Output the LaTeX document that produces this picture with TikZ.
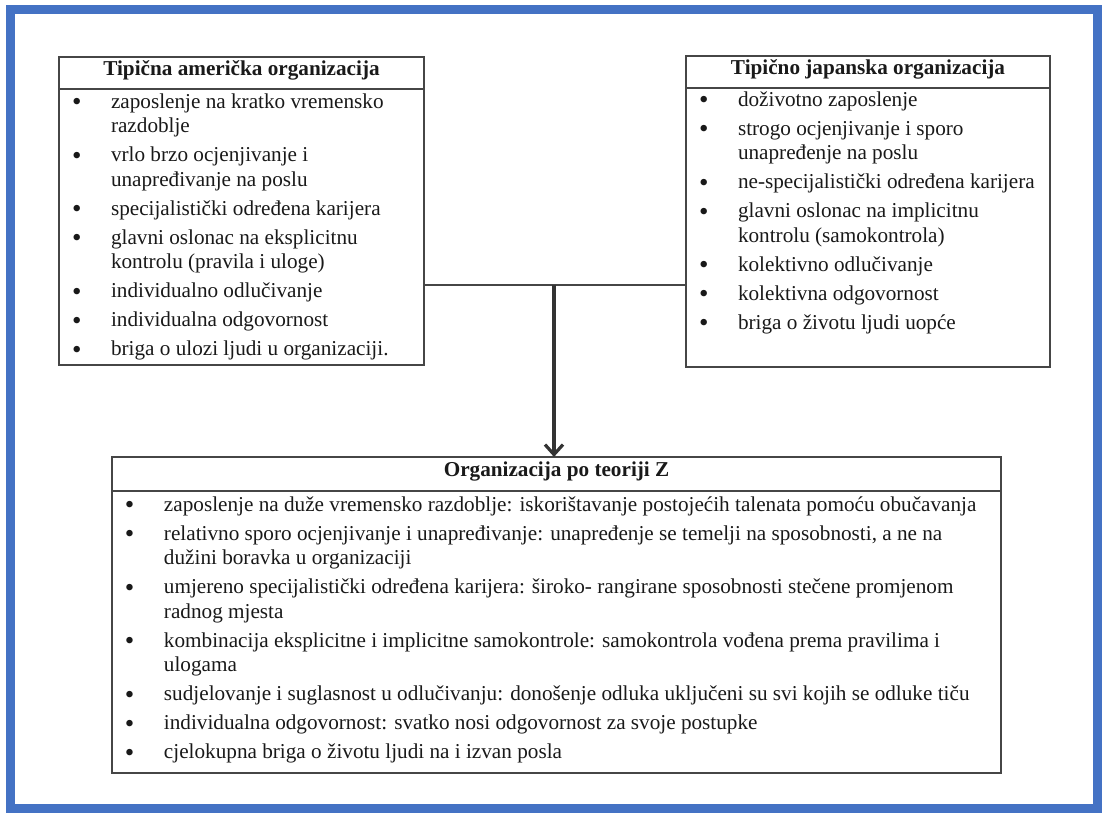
\documentclass[tikz,border=0pt]{standalone}
\usepackage{fontspec}
\setmainfont{Liberation Serif}
\usepackage{xcolor}
\usepackage{tikz}
\usetikzlibrary{positioning,arrows.meta}

\definecolor{okvirplava}{RGB}{68,114,196}
\definecolor{crta}{RGB}{70,70,70}
\newcommand{\velicina}{\fontsize{10.6}{12.25}\selectfont}
\newcommand{\tocka}{\raisebox{-1.3pt}{\fontsize{13.5}{12}\selectfont\textbullet}}
% body of a box: height, width, top gap, rows
\newcommand{\popis}[4]{%
  \begin{minipage}[t][#1][t]{#2}\vspace*{#3}%
  \begin{tabular}{@{\hspace{6.5pt}}p{19.5pt}@{}l@{}}#4\end{tabular}%
  \end{minipage}}
\tikzset{
  naslov/.style={draw=crta, line width=1pt, inner sep=0pt, outer sep=0pt,
    text height=6pt, text depth=3.5pt, font=\velicina\bfseries, text=black!90},
  tijelo/.style={draw=crta, line width=1pt, inner sep=0pt, outer sep=0pt, text=black!90},
  okvir/.style={draw=okvirplava, line width=4.5pt},
  veza/.style={draw=crta, line width=0.9pt},
  strelica/.style={draw=black!80, line width=1.6pt, -{Straight Barb[length=5pt,width=9pt]}}
}

\begin{document}
\begin{tikzpicture}[font=\velicina]
\useasboundingbox (0,0) rectangle (19.40,14.304);
% blue frame
\draw[okvir] (0.193,0.088) rectangle (19.277,14.129);
% american organisation
\node[naslov, minimum width=182.5pt, minimum height=16pt, anchor=north west] (amerNasl) at (1.037,13.303) {Tipična američka organizacija};
\node[tijelo, below=0pt of amerNasl] (amer) {\popis{138pt}{182.5pt}{1pt}{%
  \tocka & zaposlenje na kratko vremensko\\
  & razdoblje\\[2.25pt]
  \tocka & vrlo brzo ocjenjivanje i\\
  & unapređivanje na poslu\\[2.25pt]
  \tocka & specijalistički određena karijera\\[2.25pt]
  \tocka & glavni oslonac na eksplicitnu\\
  & kontrolu (pravila i uloge)\\[2.25pt]
  \tocka & individualno odlučivanje\\[2.25pt]
  \tocka & individualna odgovornost\\[2.25pt]
  \tocka & briga o ulozi ljudi u organizaciji.}};
% japanese organisation
\node[naslov, minimum width=182pt, minimum height=16pt, anchor=north west] (japNasl) at (12.055,13.320) {Tipično japanska organizacija};
\node[tijelo, below=0pt of japNasl] (jap) {\popis{139.5pt}{182pt}{0.5pt}{%
  \tocka & doživotno zaposlenje\\[2.25pt]
  \tocka & strogo ocjenjivanje i sporo\\
  & unapređenje na poslu\\[2.25pt]
  \tocka & ne-specijalistički određena karijera\\[2.25pt]
  \tocka & glavni oslonac na implicitnu\\
  & kontrolu (samokontrola)\\[2.25pt]
  \tocka & kolektivno odlučivanje\\[2.25pt]
  \tocka & kolektivna odgovornost\\[2.25pt]
  \tocka & briga o životu ljudi uopće}};
% theory Z
\node[naslov, minimum width=444.5pt, minimum height=17pt, anchor=north west] (teorNasl) at (1.968,6.274) {Organizacija po teoriji Z};
\node[tijelo, below=0pt of teorNasl] (teor) {\popis{141pt}{444.5pt}{1.5pt}{%
  \tocka & zaposlenje na duže vremensko razdoblje: iskorištavanje postojećih talenata pomoću obučavanja\\[2.25pt]
  \tocka & relativno sporo ocjenjivanje i unapređivanje: unapređenje se temelji na sposobnosti, a ne na\\
  & dužini boravka u organizaciji\\[2.25pt]
  \tocka & umjereno specijalistički određena karijera: široko- rangirane sposobnosti stečene promjenom\\
  & radnog mjesta\\[2.25pt]
  \tocka & kombinacija eksplicitne i implicitne samokontrole: samokontrola vođena prema pravilima i\\
  & ulogama\\[2.25pt]
  \tocka & sudjelovanje i suglasnost u odlučivanju: donošenje odluka uključeni su svi kojih se odluke tiču\\[2.25pt]
  \tocka & individualna odgovornost: svatko nosi odgovornost za svoje postupke\\[2.25pt]
  \tocka & cjelokupna briga o životu ljudi na i izvan posla}};
% connectors
\coordinate (spoj) at (9.735,9.296);
\draw[veza] (amer.east |- spoj) -- (jap.west |- spoj);
\draw[strelica] (spoj) -- (teorNasl.north -| spoj);
\end{tikzpicture}
\end{document}
